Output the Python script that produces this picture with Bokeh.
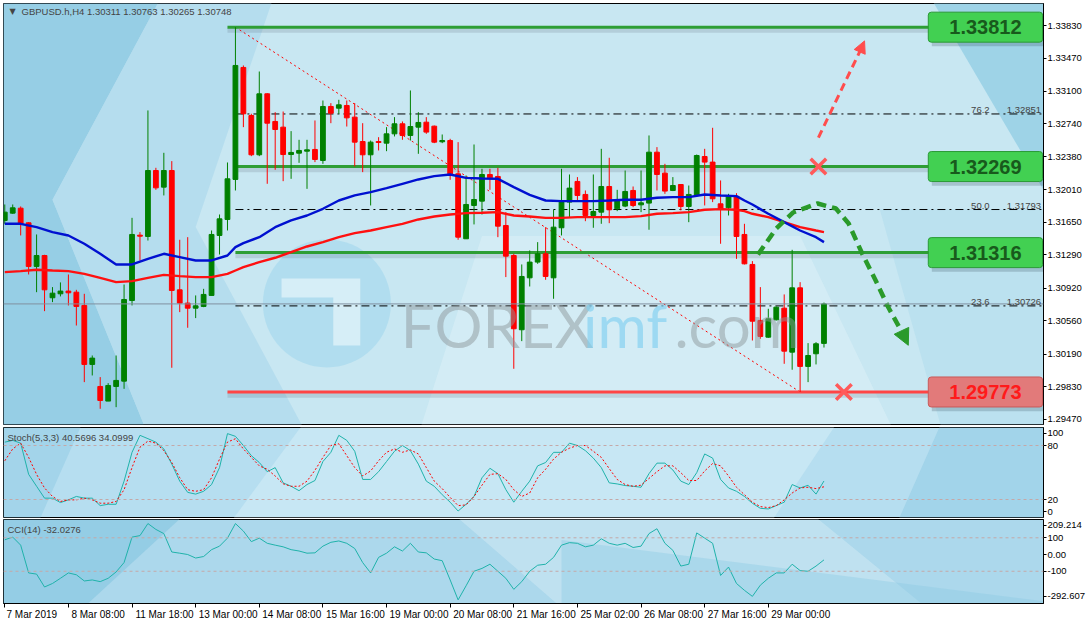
from bokeh.plotting import figure
from bokeh.layouts import column
from bokeh.models import (ColumnDataSource, Range1d, LinearAxis, FixedTicker,
                          PrintfTickFormatter, Label, Span, Arrow, NormalHead)
from bokeh.embed import file_html
from bokeh.resources import INLINE

# ---------------- data ----------------
header = "GBPUSD.h,H4  1.30311 1.30763 1.30265 1.30748"
stoch_title = "Stoch(5,3,3) 40.5696 34.0999"
cci_title = "CCI(14) -32.0276"

opens = [1.31672, 1.31753, 1.31808, 1.31646, 1.31163, 1.31284, 1.30816, 1.30860, 1.30890, 1.30878,
         1.30731, 1.30078, 1.29834, 1.29672, 1.29834, 1.29893, 1.30786, 1.31509, 1.31495, 1.32225,
         1.32041, 1.32225, 1.30904, 1.30757, 1.30701, 1.30720, 1.30842, 1.31506, 1.31683, 1.32126,
         1.33366, 1.32834, 1.32399, 1.33074, 1.32768, 1.32705, 1.32402, 1.32417, 1.32439, 1.32458,
         1.32336, 1.32934, 1.32915, 1.32945, 1.32816, 1.32546, 1.32399, 1.32546, 1.32528, 1.32631,
         1.32742, 1.32613, 1.32705, 1.32760, 1.32716, 1.32543, 1.32557, 1.32188, 1.31469, 1.31838,
         1.31886, 1.32181, 1.32159, 1.31616, 1.31284, 1.30462, 1.31037, 1.31211, 1.31303, 1.31037,
         1.31591, 1.31875, 1.32104, 1.31960, 1.31727, 1.31764, 1.32048, 1.31801, 1.31831, 1.32004,
         1.31845, 1.31864, 1.32428, 1.32196, 1.32004, 1.32070, 1.31827, 1.31949, 1.32380, 1.32318,
         1.31856, 1.31812, 1.31938, 1.31517, 1.31185, 1.30565, 1.30380, 1.30572, 1.30701, 1.30214,
         1.30926, 1.30056, 1.30196, 1.30311]
highs = [1.31849, 1.31849, 1.31827, 1.31653, 1.31517, 1.31292, 1.30934, 1.30986, 1.31074, 1.30904,
         1.30860, 1.30177, 1.29938, 1.29871, 1.30177, 1.30963, 1.31701, 1.31543, 1.32890, 1.32255,
         1.32421, 1.32329, 1.31458, 1.31487, 1.30842, 1.30915, 1.31561, 1.31738, 1.32314, 1.33812,
         1.33388, 1.32853, 1.33321, 1.33081, 1.32871, 1.32878, 1.32661, 1.32565, 1.32565, 1.32779,
         1.33000, 1.32971, 1.33008, 1.33000, 1.32971, 1.32749, 1.32557, 1.32594, 1.32705, 1.32816,
         1.32768, 1.33111, 1.32871, 1.32816, 1.32723, 1.32624, 1.32576, 1.32539, 1.32170, 1.32513,
         1.32244, 1.32244, 1.32255, 1.31764, 1.31303, 1.31185, 1.31340, 1.31432, 1.31598, 1.31790,
         1.32244, 1.32181, 1.32152, 1.32004, 1.32181, 1.32465, 1.32366, 1.32011, 1.32225, 1.32048,
         1.32225, 1.32613, 1.32484, 1.32299, 1.32152, 1.32070, 1.32059, 1.32402, 1.32465, 1.32698,
         1.32115, 1.31967, 1.31974, 1.31635, 1.31222, 1.30934, 1.30694, 1.30720, 1.30853, 1.31347,
         1.30989, 1.30314, 1.30325, 1.30763]
lows = [1.31635, 1.31746, 1.31506, 1.31074, 1.30878, 1.30668, 1.30768, 1.30831, 1.30731, 1.30509,
        1.29882, 1.29956, 1.29587, 1.29672, 1.29605, 1.29808, 1.30731, 1.31229, 1.31450, 1.32011,
        1.31949, 1.30041, 1.30657, 1.30484, 1.30591, 1.30712, 1.30842, 1.31295, 1.31561, 1.32004,
        1.32705, 1.32384, 1.32384, 1.32078, 1.32233, 1.32107, 1.32133, 1.32310, 1.32022, 1.32318,
        1.32299, 1.32749, 1.32853, 1.32712, 1.32270, 1.32207, 1.31838, 1.32447, 1.32439, 1.32602,
        1.32565, 1.32557, 1.32410, 1.32631, 1.32528, 1.32528, 1.32122, 1.31458, 1.31469, 1.31628,
        1.31738, 1.32011, 1.31487, 1.31045, 1.30030, 1.30336, 1.30941, 1.31192, 1.31015, 1.30805,
        1.31506, 1.31709, 1.31893, 1.31664, 1.31591, 1.31635, 1.31642, 1.31775, 1.31819, 1.31819,
        1.31764, 1.31569, 1.32004, 1.31967, 1.31997, 1.31783, 1.31653, 1.31938, 1.31838, 1.31875,
        1.31414, 1.31727, 1.31247, 1.31185, 1.30343, 1.30362, 1.30373, 1.30565, 1.30085, 1.30019,
        1.29773, 1.29882, 1.30078, 1.30265]
closes = [1.31764, 1.31812, 1.31635, 1.31163, 1.31284, 1.30904, 1.30867, 1.30890, 1.30871, 1.30720,
          1.30078, 1.30148, 1.29679, 1.29845, 1.29901, 1.30797, 1.31517, 1.31498, 1.32225, 1.32033,
          1.32225, 1.30897, 1.30757, 1.30701, 1.30727, 1.30853, 1.31517, 1.31690, 1.32133, 1.33388,
          1.32853, 1.32399, 1.33074, 1.32749, 1.32679, 1.32402, 1.32425, 1.32447, 1.32454, 1.32347,
          1.32934, 1.32860, 1.32952, 1.32808, 1.32539, 1.32399, 1.32539, 1.32535, 1.32631, 1.32742,
          1.32613, 1.32712, 1.32757, 1.32650, 1.32539, 1.32557, 1.32188, 1.31487, 1.31849, 1.31904,
          1.32181, 1.32144, 1.31609, 1.31277, 1.30473, 1.31052, 1.31211, 1.31303, 1.31052, 1.31598,
          1.31875, 1.32030, 1.31949, 1.31727, 1.31771, 1.32048, 1.31790, 1.31901, 1.31993, 1.31838,
          1.31867, 1.32428, 1.32181, 1.31997, 1.32059, 1.31827, 1.31960, 1.32391, 1.32318, 1.31912,
          1.31801, 1.31938, 1.31495, 1.31192, 1.30557, 1.30388, 1.30583, 1.30712, 1.30225, 1.30926,
          1.30056, 1.30177, 1.30307, 1.30748]

ma_x = [0, 2, 4, 6, 8, 10, 12, 14, 16, 18, 20, 22, 24, 26, 28, 29, 30, 32, 34, 36, 38, 40, 42, 44,
        46, 48, 50, 52, 54, 56, 58, 60, 62, 64, 66, 68, 70, 72, 74, 76, 78, 80, 82, 84, 86, 88, 90,
        92, 93, 94, 96, 98, 100, 102, 103]
ma_blue = [1.31635, 1.31635, 1.31598, 1.31543, 1.31506, 1.31414, 1.31303, 1.31185, 1.31185, 1.31247,
           1.31303, 1.31266, 1.31229, 1.31229, 1.31284, 1.31377, 1.31421, 1.31487, 1.31598, 1.31672,
           1.31727, 1.31801, 1.31893, 1.31949, 1.31985, 1.32030, 1.32078, 1.32126, 1.32163, 1.32181,
           1.32144, 1.32137, 1.32133, 1.32041, 1.31956, 1.31893, 1.31886, 1.31886, 1.31886, 1.31893,
           1.31901, 1.31901, 1.31923, 1.31930, 1.31930, 1.31960, 1.31949, 1.31941, 1.31893, 1.31849,
           1.31746, 1.31653, 1.31561, 1.31487, 1.31432]
ma_red = [1.31100, 1.31111, 1.31126, 1.31118, 1.31111, 1.31081, 1.31037, 1.30989, 1.31000, 1.31037,
          1.31070, 1.31056, 1.31045, 1.31045, 1.31081, 1.31118, 1.31155, 1.31211, 1.31259, 1.31321,
          1.31384, 1.31432, 1.31487, 1.31532, 1.31561, 1.31598, 1.31635, 1.31683, 1.31716, 1.31738,
          1.31753, 1.31757, 1.31764, 1.31727, 1.31716, 1.31701, 1.31701, 1.31709, 1.31709, 1.31709,
          1.31709, 1.31720, 1.31746, 1.31753, 1.31764, 1.31790, 1.31797, 1.31790, 1.31775, 1.31746,
          1.31709, 1.31653, 1.31598, 1.31561, 1.31543]

stoch_main = [83.7, 85.7, 82.6, 48.0, 34.7, 21.5, 21.5, 16.6, 19.6, 23.4,
              21.5, 21.5, 13.2, 14.7, 14.7, 40.4, 72.4, 91.3, 87.6, 83.7,
              76.2, 59.3, 40.4, 27.9, 26.0, 29.1, 36.6, 55.4, 93.2, 90.2,
              80.0, 68.7, 61.1, 50.9, 55.4, 38.5, 34.7, 29.8, 36.6, 41.1,
              62.2, 72.4, 91.3, 85.7, 73.6, 42.3, 42.3, 50.9, 62.2, 73.6,
              80.0, 74.3, 59.3, 40.4, 34.7, 25.3, 17.0, 7.2, 14.7, 23.4,
              44.1, 54.7, 48.7, 31.0, 17.0, 29.1, 40.4, 57.4, 61.1, 72.4,
              72.4, 82.6, 80.0, 74.3, 66.0, 55.4, 38.5, 37.3, 35.5, 34.7,
              33.6, 48.7, 60.4, 60.4, 52.8, 40.4, 36.6, 49.8, 70.6, 66.0,
              42.3, 32.8, 29.1, 23.4, 15.8, 10.2, 9.5, 13.2, 17.0, 36.6,
              32.8, 35.8, 26.0, 40.57]
stoch_signal = [63.0, 76.2, 82.6, 66.8, 47.9, 32.8, 23.4, 17.8, 19.6, 19.6,
                21.5, 19.6, 15.9, 15.9, 17.8, 30.9, 55.5, 78.1, 84.9, 82.6,
                74.3, 61.1, 44.2, 30.9, 29.1, 30.9, 44.2, 64.9, 83.8, 87.5,
                76.2, 66.8, 57.4, 53.6, 46.1, 37.4, 34.7, 34.7, 40.4, 52.5,
                66.8, 80.0, 81.9, 68.7, 55.5, 46.1, 51.7, 63.0, 72.5, 76.2,
                72.5, 75.1, 70.6, 55.5, 40.4, 32.1, 22.3, 13.2, 14.0, 23.4,
                35.9, 47.9, 48.7, 42.3, 30.9, 23.4, 27.2, 44.2, 53.6, 64.9,
                72.5, 77.0, 80.0, 80.0, 73.6, 66.8, 54.3, 42.3, 36.6, 34.7,
                35.9, 43.4, 50.9, 57.4, 57.4, 49.8, 41.1, 41.1, 51.7, 60.0,
                57.4, 46.1, 33.6, 25.3, 17.0, 12.1, 11.0, 13.2, 19.6, 27.2,
                32.9, 33.6, 32.1, 34.10]
cci_vals = [88, 104, 56, -110, -117, -194, -173, -142, -110, -121,
            -158, -152, -162, -142, -104, -48, 104, 113, 185, 150,
            125, 15, 8, 0, -21, -12, 29, 50, 98, 185,
            140, 77, 98, 67, 56, 46, 29, 21, 8, 10,
            50, 73, 81, 67, 36, -48, -110, -17, 8, 46,
            21, 67, 15, 10, -27, -37, -152, -271, -187, -100,
            -83, -58, -100, -142, -208, -162, -100, -64, -58, -17,
            56, 71, 67, 46, 56, 94, 67, 56, 67, 42,
            50, 125, 154, 67, 25, -69, -58, 129, 98, 67,
            -125, -75, -173, -214, -250, -183, -142, -110, -110, -58,
            -96, -100, -69, -32.03]

price_ticks = [1.29470, 1.29830, 1.30190, 1.30560, 1.30920, 1.31290, 1.31650,
               1.32010, 1.32380, 1.32740, 1.33100, 1.33470, 1.33830]
date_tick_bars = [0, 8, 16, 24, 32, 40, 48, 56, 64, 72, 80, 88, 96]
date_labels = ["7 Mar 2019", "8 Mar 08:00", "11 Mar 18:00", "13 Mar 00:00", "14 Mar 08:00",
               "15 Mar 16:00", "19 Mar 00:00", "20 Mar 08:00", "21 Mar 16:00", "25 Mar 02:00",
               "26 Mar 08:00", "27 Mar 16:00", "29 Mar 00:00"]

resistance_levels = [1.33812, 1.32269, 1.31316]
resistance_start = [28, 29, 29]
support_level = 1.29773
fib_levels = [1.32851, 1.31793, 1.30726]
fib_names = ["76.2", "50.0", "23.6"]
fib_anchor_x = [29, 100]
fib_anchor_y = [1.33812, 1.29773]
last_price = 1.30748

curve_x = [94.7, 97.0, 99.1, 102.2, 104.5, 106.1, 107.8, 109.5, 111.1, 112.9]
curve_y = [1.31295, 1.31583, 1.31760, 1.31860, 1.31804, 1.31638, 1.31306, 1.31007, 1.30708, 1.30421]
curve_tip = (113.6, 1.30290)
up_x = [102.3, 107.6]
up_y = [1.32590, 1.33560]
up_tip = (108.1, 1.33660)
cross_x = [102.3, 105.5]
cross_y = [1.32269, 1.29773]

# ---------------- figures ----------------
FONT = "Liberation Sans"
W = 1088
xr = Range1d(-0.16, 130.6)
X_END = 130.6


def make_fig(h, y0, y1, bg, top=1, bottom=1):
    p = figure(width=W, height=h, x_range=xr, y_range=Range1d(y0, y1),
               output_backend="svg", toolbar_location=None,
               x_axis_location=None, y_axis_location="right",
               min_border_left=3, min_border_right=41,
               min_border_top=top, min_border_bottom=bottom)
    p.grid.visible = False
    p.outline_line_color = "black"
    p.outline_line_width = 1
    p.border_fill_color = "white"
    p.background_fill_color = bg
    ax = p.yaxis[0]
    ax.axis_line_color = "black"
    ax.major_tick_line_color = "black"
    ax.major_tick_out = 3
    ax.major_tick_in = 0
    ax.minor_tick_line_color = None
    ax.major_label_text_font = FONT
    ax.major_label_text_font_size = "9.5px"
    ax.major_label_standoff = 1
    ax.major_label_text_color = "black"
    return p


# ---- main price panel
p1 = make_fig(426, 1.29413, 1.34074, "#c8e7f2", top=3, bottom=2)
p1.yaxis[0].ticker = FixedTicker(ticks=price_ticks)
p1.yaxis[0].formatter = PrintfTickFormatter(format="%.5f")

# wallpaper-like background shading
p1.patch([-1, 20, 6, 18, -1], [1.342, 1.342, 1.3190, 1.293, 1.293], color="#86c5e0", alpha=0.75, line_color=None)
p1.patch([20, 34, 24, 38, 18, 6], [1.342, 1.342, 1.3160, 1.293, 1.293, 1.3190], color="#a6d6eb", alpha=0.55, line_color=None)
p1.patch([60, 100, 112, 52], [1.3150, 1.3150, 1.293, 1.293], color="#eef8fb", alpha=0.3, line_color=None)
p1.patch([116, 132, 132], [1.342, 1.342, 1.3180], color="#8ccae3", alpha=0.7, line_color=None)
p1.patch([110, 132, 132, 118], [1.3180, 1.3180, 1.293, 1.293], color="#aad9ec", alpha=0.45, line_color=None)

# watermark (logo + text)
p1.scatter(x=[40.5], y=[1.30753], size=128, marker="circle", fill_color="#8fd0ec", fill_alpha=0.4, line_color=None)
p1.patch([34.8, 44.7, 44.7, 41.3, 41.3, 34.8], [1.3103, 1.3103, 1.30288, 1.30288, 1.30819, 1.30819],
         color="#f4fbfd", alpha=0.55, line_color=None)
WM = "Lato"
p1.add_layout(Label(x=49.8, y=1.30510, text="FOREX", text_font=WM, text_font_size="60px",
                    text_color="#8e979c", text_alpha=0.5, text_baseline="alphabetic"))
p1.add_layout(Label(x=72.7, y=1.30510, text="imf", text_font=WM, text_font_size="60px",
                    text_color="#7fd0f0", text_alpha=0.65, text_baseline="alphabetic"))
p1.add_layout(Label(x=84.2, y=1.30510, text=".com", text_font=WM, text_font_size="60px",
                    text_color="#8e979c", text_alpha=0.5, text_baseline="alphabetic"))

# current price line
p1.add_layout(Span(location=last_price, dimension="width", line_color="#8090a0", line_width=1))

# fib levels
for lv, nm in zip(fib_levels, fib_names):
    p1.line([fib_anchor_x[0], X_END], [lv, lv], line_color="black", line_width=1, line_dash="8 4 2 4")
    p1.add_layout(Label(x=121.5, y=lv, y_offset=1, text=nm, text_font=FONT,
                        text_font_size="9.5px", text_baseline="bottom", text_align="left"))
    p1.add_layout(Label(x=130.3, y=lv, y_offset=1, text="%.5f" % lv, text_font=FONT,
                        text_font_size="9.5px", text_baseline="bottom", text_align="right"))
p1.line(fib_anchor_x, fib_anchor_y, line_color="red", line_width=1, line_dash="2 3")

# horizontal levels with shadows
for lv, st in zip(resistance_levels, resistance_start):
    p1.line([st, X_END], [lv - 0.00035, lv - 0.00035], line_color="#556070", line_width=5, line_alpha=0.18)
    p1.line([st, X_END], [lv, lv], line_color="#2e9e35", line_width=3)
p1.line([28, X_END], [support_level - 0.00035] * 2, line_color="#556070", line_width=5, line_alpha=0.18)
p1.line([28, X_END], [support_level] * 2, line_color="#ff4545", line_width=3)

# candles
bars = list(range(len(opens)))
colors = ["#008000" if c >= o else "#ff0000" for o, c in zip(opens, closes)]
src = ColumnDataSource(dict(x=bars, h=highs, l=lows,
                            top=[max(o, c) for o, c in zip(opens, closes)],
                            bot=[min(o, c) for o, c in zip(opens, closes)],
                            color=colors))
p1.segment(x0="x", y0="h", x1="x", y1="l", line_color="color", line_width=1, source=src)
p1.vbar(x="x", width=0.6, top="top", bottom="bot", fill_color="color", line_color="color", source=src)

# moving averages
p1.line(ma_x, ma_red, line_color="#ff1010", line_width=2.4)
p1.line(ma_x, ma_blue, line_color="#0010d0", line_width=2.4)

# scenario arrows
p1.line(curve_x, curve_y, line_color="#2a9a2a", line_width=4.5, line_dash="10 6")
p1.add_layout(Arrow(x_start=curve_x[-1], y_start=curve_y[-1], x_end=curve_tip[0], y_end=curve_tip[1],
                    line_alpha=0, end=NormalHead(size=16, fill_color="#2a9a2a", line_color="#2a9a2a")))
p1.line(up_x, up_y, line_color="#ff4d4d", line_width=3, line_dash="8 5")
p1.add_layout(Arrow(x_start=up_x[-1], y_start=up_y[-1], x_end=up_tip[0], y_end=up_tip[1],
                    line_alpha=0, end=NormalHead(size=12, fill_color="#ff4d4d", line_color="#ff4d4d")))
p1.scatter(cross_x, cross_y, marker="x", size=22, line_width=3.5, line_color="#ff5a5a")

# level boxes (shadow rect + label box)
box_x = 123.3
box_levels = resistance_levels + [support_level]
box_style = [("#42d052", "#2a9a35", "#185a1c")] * 3 + [("#e27a7a", "#c85a5a", "#ff1a1a")]
p1.rect(x=[box_x + 0.3] * 4, y=[lv - 0.00035 for lv in box_levels], width=112, height=32,
        width_units="screen", height_units="screen", fill_color="#203040", fill_alpha=0.2, line_color=None)
pad = dict(left=21, right=21, top=8, bottom=8)
for lv, (fill, border, tc) in zip(box_levels, box_style):
    p1.add_layout(Label(x=box_x, y=lv, text="%.5f" % lv, text_align="center",
                        text_baseline="middle", text_font=FONT, text_font_size="20px",
                        text_font_style="bold", text_color=tc, background_fill_color=fill,
                        border_line_color=border, border_line_width=1, padding=pad, border_radius=3))

# header and last price tag
p1.add_layout(Label(x=6, y=413, x_units="screen", y_units="screen", text="\u25bc", text_font="DejaVu Sans",
                    text_font_size="8px", text_baseline="middle"))
p1.add_layout(Label(x=18, y=413, x_units="screen", y_units="screen", text=header, text_font=FONT,
                    text_font_size="9.5px", text_baseline="middle"))
p1.add_layout(Label(x=X_END, y=last_price, x_offset=1, text="%.5f" % last_price, text_align="left",
                    text_baseline="middle", text_font=FONT, text_font_size="9.5px",
                    text_color="white", background_fill_color="black",
                    padding=dict(left=2, right=6, top=1, bottom=1)))

# ---- stochastic panel
p2 = make_fig(92, 0, 100, "#b6def0")
p2.patch([38, 105, 96, 28], [110, 110, -10, -10], color="#d8eff7", alpha=0.5, line_color=None)
p2.patch([118, 132, 132, 112], [110, 110, -10, -10], color="#8ecae3", alpha=0.5, line_color=None)
p2.patch([-1, 10, 4, -1], [110, 110, -10, -10], color="#8cc8e2", alpha=0.45, line_color=None)
stoch_ticks = [6.4, 20, 80, 93.6]
p2.yaxis[0].ticker = FixedTicker(ticks=stoch_ticks)
p2.yaxis[0].major_label_overrides = {6.4: "0", 20: "20", 80: "80", 93.6: "100"}
for lv in [20, 80]:
    p2.add_layout(Span(location=lv, dimension="width", line_color="#c4a8a8", line_width=1, line_dash="3 3"))
p2.line(bars, stoch_main, line_color="#20b2aa", line_width=1)
p2.line(bars, stoch_signal, line_color="#ff0000", line_width=1, line_dash="2 2")
p2.add_layout(Label(x=4, y=80, x_units="screen", y_units="screen", text=stoch_title,
                    text_font=FONT, text_font_size="9.5px", text_baseline="middle"))

# ---- CCI panel
p3 = make_fig(105, -292.607, 209.214, "#acd8ec", bottom=20)
p3.patch([-1, 24, 8, -1], [300, 300, -400, -400], color="#7cc1dd", alpha=0.5, line_color=None)
p3.patch([55, 100, 118, 72], [300, 300, -400, -400], color="#d8eef7", alpha=0.45, line_color=None)
p3.patch([70, 132, 132, 70], [87, -287, -400, -400], color="#8ccbe4", alpha=0.4, line_color=None)
cci_ticks = [-250, -100, 0, 100, 175]
p3.yaxis[0].ticker = FixedTicker(ticks=cci_ticks)
p3.yaxis[0].major_label_overrides = {-250: "-292.607", -100: "-100", 0: "0.00", 100: "100", 175: "209.214"}
for lv in [100, -100]:
    p3.add_layout(Span(location=lv, dimension="width", line_color="#c4a8a8", line_width=1, line_dash="3 3"))
p3.line(bars, cci_vals, line_color="#20b2aa", line_width=1)
p3.add_layout(Label(x=4, y=74, x_units="screen", y_units="screen", text=cci_title,
                    text_font=FONT, text_font_size="9.5px", text_baseline="middle"))

# date axis: tick marks (minor ticks) at the bars, labels left-aligned from the ticks
label_pos = [round(b + len(t) * 0.34, 2) for b, t in zip(date_tick_bars, date_labels)]
date_ax = LinearAxis(ticker=FixedTicker(ticks=label_pos, minor_ticks=date_tick_bars),
                     major_label_overrides={lp: t for lp, t in zip(label_pos, date_labels)},
                     major_tick_line_color=None, major_tick_out=4, major_tick_in=0,
                     minor_tick_line_color="black", minor_tick_out=4, minor_tick_in=0,
                     axis_line_color="black", major_label_standoff=1,
                     major_label_text_font=FONT, major_label_text_font_size="10px",
                     major_label_text_color="black")
p3.add_layout(date_ax, "below")

layout = column(p1, p2, p3)
open("out.html", "w").write(file_html(layout, INLINE, title="GBPUSD H4"))
